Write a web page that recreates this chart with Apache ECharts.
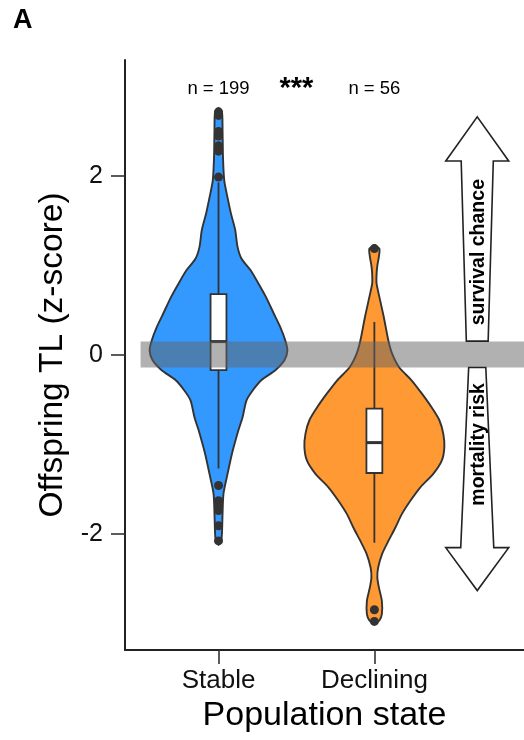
<!DOCTYPE html>
<html><head><meta charset="utf-8">
<script src="https://cdn.jsdelivr.net/npm/echarts@6/dist/echarts.min.js"></script>
<style>html,body{margin:0;padding:0;background:#fff}#c{width:524px;height:740px}</style>
</head><body><div id="c"></div>
<script>
// ---------------- data ----------------
const categories = ['Stable', 'Declining'];
const sampleSizes = [199, 56];
const significance = '***';
const yTicks = [-2, 0, 2];

// violin outlines: y values and scaled half-density (x-axis units)
const stableDensityY = [2.76, 2.72, 2.5, 2.2, 1.95, 1.76, 1.58, 1.40, 1.21, 1.08, 0.95, 0.80, 0.65, 0.47, 0.31, 0.16, 0.05, -0.06, -0.17, -0.28, -0.40, -0.51, -0.70, -0.84, -1.10, -1.33, -1.55, -1.77, -2.0, -2.09, -2.12];
const stableDensityW = [0, 0.022, 0.026, 0.029, 0.037, 0.058, 0.080, 0.107, 0.122, 0.147, 0.205, 0.256, 0.304, 0.353, 0.397, 0.429, 0.442, 0.423, 0.365, 0.276, 0.218, 0.179, 0.154, 0.128, 0.087, 0.058, 0.032, 0.026, 0.022, 0.016, 0];
const decliningDensityY = [1.23, 1.19, 1.10, 1.00, 0.90, 0.80, 0.65, 0.42, 0.16, 0.01, -0.14, -0.28, -0.43, -0.58, -0.73, -0.88, -1.03, -1.18, -1.33, -1.48, -1.63, -1.78, -1.93, -2.08, -2.22, -2.38, -2.49, -2.60, -2.75, -2.90, -2.97, -3.01];
const decliningDensityW = [0, 0.032, 0.029, 0.019, 0.014, 0.014, 0.032, 0.061, 0.090, 0.115, 0.160, 0.237, 0.304, 0.365, 0.417, 0.442, 0.449, 0.433, 0.378, 0.295, 0.231, 0.176, 0.135, 0.090, 0.051, 0.024, 0.019, 0.029, 0.048, 0.048, 0.032, 0];

// box stats: [lowerWhisker, q1, median, q3, upperWhisker]
const stableBox = [-1.27, -0.17, 0.15, 0.68, 1.93];
const decliningBox = [-2.10, -1.32, -0.98, -0.60, 0.37];

// outliers
const stableOutliers = [2.72, 2.68, 2.50, 2.45, 2.34, 2.28, 1.99, -1.46, -1.63, -1.68, -1.74, -1.91, -2.08];
const decliningOutliers = [1.19, -2.85, -2.98];

// reference band around 0
const referenceBand = [-0.14, 0.15];
const arrowLabels = ['survival chance', 'mortality risk'];

// ---------------- chart ----------------
const FONT = 'Liberation Sans, Arial, Helvetica, sans-serif';
const fills = ['#3399FF', '#FF9933'];
const outline = '#333333';
const densY = [stableDensityY, decliningDensityY];
const densW = [stableDensityW, decliningDensityW];
const boxes = [stableBox, decliningBox];

function violinItem(params, api) {
  const i = params.dataIndex, xc = api.value(0);
  const ys = densY[i], ws = densW[i], pts = [];
  for (let k = 0; k < ys.length; k++) pts.push(api.coord([xc + ws[k], ys[k]]));
  for (let k = ys.length - 1; k >= 0; k--) pts.push(api.coord([xc - ws[k], ys[k]]));
  return { type: 'polygon', shape: { points: pts, smooth: 0.25 },
    style: { fill: fills[i], stroke: outline, lineWidth: 1.9 } };
}

const BOX_HALF = 0.051;
function boxItem(params, api) {
  const i = params.dataIndex, xc = api.value(0), b = boxes[i];
  const lo = api.coord([xc, b[0]]), hi = api.coord([xc, b[4]]);
  const tl = api.coord([xc - BOX_HALF, b[3]]), br = api.coord([xc + BOX_HALF, b[1]]);
  const ml = api.coord([xc - BOX_HALF, b[2]]), mr = api.coord([xc + BOX_HALF, b[2]]);
  return { type: 'group', children: [
    { type: 'line', shape: { x1: lo[0], y1: lo[1], x2: hi[0], y2: hi[1] }, style: { stroke: outline, lineWidth: 1.8 } },
    { type: 'rect', shape: { x: tl[0], y: tl[1], width: br[0] - tl[0], height: br[1] - tl[1] }, style: { fill: '#fff', stroke: outline, lineWidth: 1.8 } },
    { type: 'line', shape: { x1: ml[0], y1: ml[1], x2: mr[0], y2: mr[1] }, style: { stroke: outline, lineWidth: 3 } }
  ]};
}

function bandItem(params, api) {
  const a = api.coord([0.5, referenceBand[1]]), b = api.coord([2.96, referenceBand[0]]);
  return { type: 'rect', shape: { x: a[0], y: a[1], width: b[0] - a[0], height: b[1] - a[1] },
    style: { fill: 'rgba(100,100,100,0.5)' } };
}

// arrow geometry (decoration), in data units
const arrowGeom = [
  { xc: 2.66, y0: 0.155, bw: 0.07, hb: 2.17, tw: 0.103, hw: 0.202, tip: 2.665, ty: 1.15 },
  { xc: 2.66, y0: -0.14, bw: 0.055, hb: -2.155, tw: 0.106, hw: 0.202, tip: -2.635, ty: -1.0 }
];
function arrowItem(params, api) {
  const g = arrowGeom[params.dataIndex];
  const raw = [[g.xc - g.bw, g.y0], [g.xc - g.tw, g.hb], [g.xc - g.hw, g.hb], [g.xc, g.tip],
               [g.xc + g.hw, g.hb], [g.xc + g.tw, g.hb], [g.xc + g.bw, g.y0]];
  const pts = raw.map(p => api.coord(p));
  const tp = api.coord([g.xc + 0.01, g.ty]);
  return { type: 'group', children: [
    { type: 'polygon', shape: { points: pts }, style: { fill: '#fff', stroke: '#222', lineWidth: 1.6 } },
    { type: 'text', x: tp[0], y: tp[1], rotation: Math.PI / 2,
      style: { text: arrowLabels[params.dataIndex], fontSize: 19.5, fontWeight: 'bold', fontFamily: FONT,
        fill: '#000', align: 'center', verticalAlign: 'middle' } }
  ]};
}

const topTexts = [
  { x: 1, text: 'n = ' + sampleSizes[0], size: 18.5, weight: 'normal' },
  { x: 1.5, text: significance, size: 29, weight: 'bold' },
  { x: 2, text: 'n = ' + sampleSizes[1], size: 18.5, weight: 'normal' }
];
function topTextItem(params, api) {
  const t = topTexts[params.dataIndex];
  const p = api.coord([t.x, 2.98]);
  return { type: 'text', x: p[0], y: p[1],
    style: { text: t.text, fontSize: t.size, fontWeight: t.weight, fontFamily: FONT, fill: '#000',
      align: 'center', verticalAlign: 'middle' } };
}

const scatterData = [];
stableOutliers.forEach(v => scatterData.push([1, v]));
decliningOutliers.forEach(v => scatterData.push([2, v]));

const chart = echarts.init(document.getElementById('c'), null, { renderer: 'canvas' });
chart.setOption({
  animation: false,
  backgroundColor: '#fff',
  textStyle: { fontFamily: FONT },
  graphic: [{ type: 'text', left: 13, top: 7, style: { text: 'A', fontSize: 27, fontWeight: 'bold', fontFamily: FONT, fill: '#000' } }],
  grid: { left: 125, right: 0, top: 60, bottom: 90 },
  xAxis: {
    type: 'value', min: 0.4, max: 2.96,
    name: 'Population state', nameLocation: 'middle', nameGap: 43,
    nameTextStyle: { fontSize: 34, color: '#000', fontFamily: FONT },
    axisLine: { onZero: false, lineStyle: { color: '#222', width: 2 } },
    axisTick: { customValues: [1, 2], length: 14, lineStyle: { color: '#333', width: 1.6 } },
    axisLabel: { customValues: [1, 2], formatter: v => categories[Math.round(v) - 1] || '', fontSize: 26, color: '#111', margin: 18, fontFamily: FONT },
    splitLine: { show: false }
  },
  yAxis: {
    type: 'value', min: -3.3, max: 3.3,
    name: 'Offspring TL (z-score)', nameLocation: 'middle', nameGap: 50, nameRotate: 90,
    nameTextStyle: { fontSize: 33.5, color: '#000', fontFamily: FONT },
    axisLine: { onZero: false, lineStyle: { color: '#222', width: 2 } },
    axisTick: { customValues: yTicks, length: 14, lineStyle: { color: '#333', width: 1.6 } },
    axisLabel: { customValues: yTicks, fontSize: 25, color: '#111', margin: 22, fontFamily: FONT },
    splitLine: { show: false }
  },
  series: [
    { type: 'custom', z: 1, renderItem: violinItem, data: [[1, 0], [2, 0]] },
    { type: 'custom', z: 2, renderItem: boxItem, data: [[1, 0], [2, 0]] },
    { type: 'scatter', z: 3, data: scatterData, symbolSize: 9, itemStyle: { color: '#333', opacity: 1 } },
    { type: 'custom', z: 4, renderItem: bandItem, data: [[0.5, 0]] },
    { type: 'custom', z: 5, renderItem: arrowItem, data: [[2.66, 1], [2.66, -1]] },
    { type: 'custom', z: 6, renderItem: topTextItem, data: [[1, 3], [1.5, 3], [2, 3]] }
  ]
});
</script></body></html>
